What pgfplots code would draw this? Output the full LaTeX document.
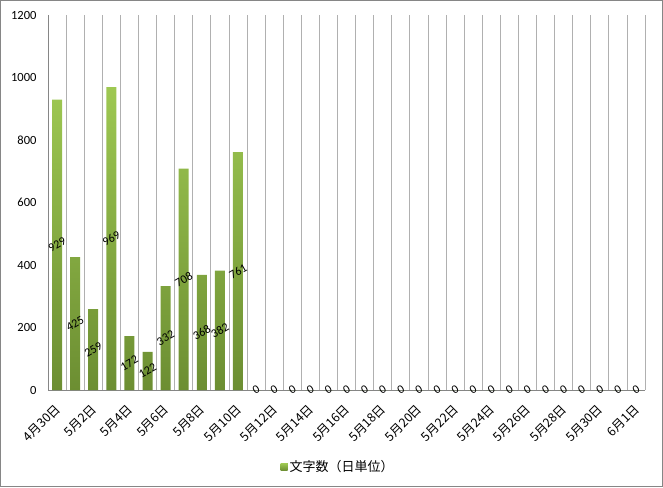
\documentclass[border=0pt]{standalone}
\usepackage{pgfplots}
\pgfplotsset{compat=1.18}
\usepackage{fontspec}
\setmainfont{Carlito}
\newfontfamily\jp{Noto Sans CJK JP}
\definecolor{gtop}{RGB}{158,200,82}
\definecolor{gbot}{RGB}{108,142,50}
\definecolor{gridc}{RGB}{176,176,176}
\definecolor{framec}{RGB}{134,134,134}
\begin{document}
\begin{tikzpicture}
\path[use as bounding box] (0pt,0pt) rectangle (663pt,487pt);
\draw[framec, line width=1pt] (0.5pt,0.5pt) rectangle (662.5pt,486.5pt);
\begin{axis}[
  at={(48pt,97pt)}, anchor=south west,
  width=597pt, height=375pt, scale only axis,
  xmin=-0.5, xmax=32.5, ymin=0, ymax=1200,
  ytick={0,200,...,1200},
  xtick={0,2,...,32},
  xticklabels={4月30日,5月2日,5月4日,5月6日,5月8日,5月10日,5月12日,5月14日,5月16日,5月18日,5月20日,5月22日,5月24日,5月26日,5月28日,5月30日,6月1日},
  minor xtick={-0.5,0.5,...,32.5},
  xminorgrids=true,
  minor grid style={draw=gridc, line width=0.8pt},
  major tick length=0pt, minor tick length=0pt,
  axis x line*=bottom, axis y line*=left,
  axis line style={draw=framec, line width=0.8pt, -},
  yticklabel style={font=\fontsize{12.5}{14}\selectfont, xshift=-8pt},
  /pgf/number format/1000 sep={},
  xticklabel style={font=\jp\fontsize{12.5}{13}\selectfont, anchor=north east, inner sep=0pt, xshift=-3pt, yshift=-13pt, rotate=45},
  /pgf/number format/assume math mode=true,
  legend style={at={(0.486,-0.205)}, anchor=center, draw=none, fill=none, font=\jp\fontsize{13}{14}\selectfont},
  legend image code/.code={\fill[gtop!85!gbot] (0pt,-3.5pt) rectangle (7pt,3.5pt);},
  clip=false,
]
\addplot[ybar, bar width=10pt, draw=none, top color=gtop, bottom color=gbot,
  nodes near coords,
  visualization depends on={y \as \myy},
  every node near coord/.append style={anchor=center, yshift={-0.15625*\myy}, rotate=30, font=\fontsize{12}{13}\selectfont, text=black, inner sep=1pt},
] coordinates {
(0,929) (1,425) (2,259) (3,969) (4,172) (5,122) (6,332) (7,708) (8,368) (9,382) (10,761)
(11,0) (12,0) (13,0) (14,0) (15,0) (16,0) (17,0) (18,0) (19,0) (20,0) (21,0)
(22,0) (23,0) (24,0) (25,0) (26,0) (27,0) (28,0) (29,0) (30,0) (31,0) (32,0)
};
\addlegendentry{文字数（日単位）}
\end{axis}
\end{tikzpicture}
\end{document}
